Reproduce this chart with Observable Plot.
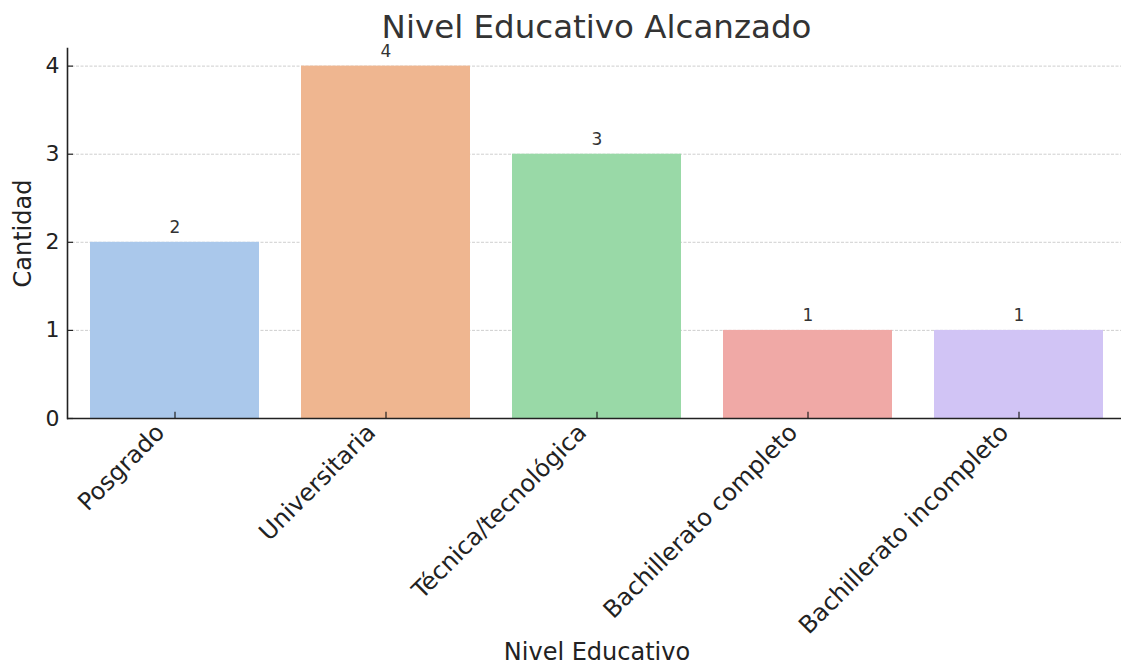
<!DOCTYPE html>
<html><head><meta charset="utf-8">
<script src="https://cdn.jsdelivr.net/npm/d3@7"></script>
<script src="https://cdn.jsdelivr.net/npm/@observablehq/plot@0.6"></script>
<style>
body{margin:0;background:#fff;font-family:"DejaVu Sans",sans-serif;}
#wrap{position:relative;width:1121px;height:664px;overflow:hidden;}
#title{position:absolute;left:0;width:1193px;top:8px;text-align:center;font-size:32.5px;color:#333;white-space:nowrap;line-height:normal;}
#chart{position:absolute;left:0;top:0;}
</style></head><body>
<div id="wrap"><div id="chart"></div><div id="title">Nivel Educativo Alcanzado</div></div>
<script>
const categories = ["Posgrado", "Universitaria", "Técnica/tecnológica", "Bachillerato completo", "Bachillerato incompleto"];
const counts = [2, 4, 3, 1, 1];
const colors = ["#aac8eb", "#efb690", "#99d9a7", "#f0a9a6", "#d1c4f5"];
const yTicks = [0, 1, 2, 3, 4];
const gridTicks = [1, 2, 3, 4];

const data = categories.map((c, i) => ({nivel: c, cantidad: counts[i]}));

const chart = Plot.plot({
  width: 1121,
  height: 664,
  marginTop: 48,
  marginBottom: 246,
  marginLeft: 67,
  marginRight: -5,
  style: {fontFamily: "DejaVu Sans", background: "transparent", overflow: "visible", color: "#222"},
  x: {domain: categories, paddingInner: 0.2, paddingOuter: 0.1},
  y: {domain: [0, 4.2]},
  color: {domain: categories, range: colors},
  marks: [
    Plot.gridY(gridTicks, {stroke: "#999", strokeOpacity: 0.6, strokeDasharray: "3,1.5", strokeWidth: 0.8}),
    Plot.barY(data, {x: "nivel", y: "cantidad", fill: "nivel"}),
    Plot.text(data, {x: "nivel", y: "cantidad", text: d => String(d.cantidad), dy: -9, lineAnchor: "bottom", fontSize: 17, fill: "#333"}),
    Plot.ruleX(categories, {x: d => d, y1: 0, y2: 0.07, stroke: "#222", strokeWidth: 1.2}),
    Plot.ruleY(yTicks, {y: d => d, insetRight: 1053, stroke: "#222", strokeWidth: 1.2}),
    Plot.axisY(yTicks, {tickSize: 0, tickPadding: 8, fontSize: 22, tickFormat: "d", label: null}),
    Plot.axisY([], {tickSize: 0, fontSize: 24, label: "Cantidad", labelAnchor: "center", labelArrow: "none", labelOffset: 54}),
    Plot.axisX({tickSize: 0, tickRotate: -45, tickPadding: 6, dx: -14.5, dy: 4, fontSize: 24, label: null}),
    Plot.axisX([], {tickSize: 0, fontSize: 24, label: "Nivel Educativo", labelAnchor: "center", labelArrow: "none", labelOffset: 241}),
    Plot.frame({anchor: "left", stroke: "#222", strokeWidth: 1.6}),
    Plot.ruleY([0], {stroke: "#222", strokeWidth: 1.6})
  ]
});
document.getElementById("chart").appendChild(chart);
</script>
</body></html>
